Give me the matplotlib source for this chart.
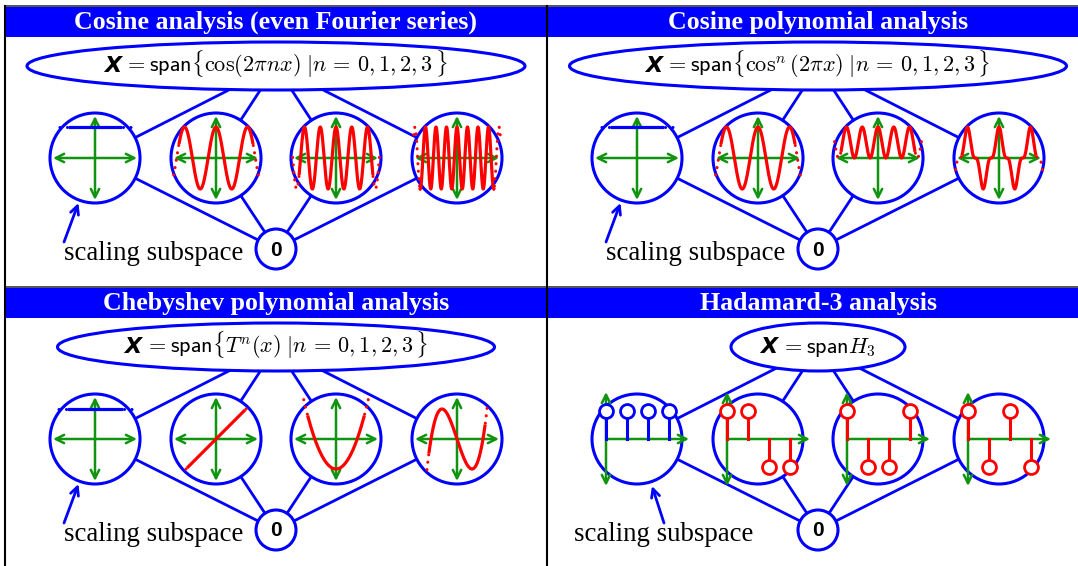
import numpy as np
import matplotlib.pyplot as plt
from matplotlib.patches import Ellipse, Circle, FancyArrowPatch, Rectangle

# ---- data ----
titles = ["Cosine analysis (even Fourier series)", "Cosine polynomial analysis",
          "Chebyshev polynomial analysis", "Hadamard-3 analysis"]
span_eqs = [r"$=\mathsf{span}\{\cos(2\pi nx)\;|n\,=\,0,1,2,3\,\}$",
            r"$=\mathsf{span}\{\cos^n(2\pi x)\;|n\,=\,0,1,2,3\,\}$",
            r"$=\mathsf{span}\{T^n(x)\;|n\,=\,0,1,2,3\,\}$",
            r"$=\mathsf{span}H_3$"]
degrees = [0, 1, 2, 3]
hadamard_rows = [[1, 1, 1, 1], [1, 1, -1, -1], [1, -1, -1, 1], [1, -1, 1, -1]]
scaling_label = "scaling subspace"
zero_label = "0"

# ---- layout (pixels) ----
W, H = 1078, 566
BLUE, RED, GREEN = "#0000FF", "#FF0000", "#109410"
panel_cx = [276, 818, 276, 818]
row_top = [0, 0, 281, 281]
ellipse_w = [498, 497, 437, 174]
ELL_H = 48
ELL_Y, CIRC_Y, ZERO_Y = 66, 158, 249
R, R0 = 45, 20
circle_dx = [-181, -60, 60, 181]

fig = plt.figure(figsize=(W / 100, H / 100), dpi=100)
ax = fig.add_axes([0, 0, 1, 1])
ax.set_xlim(0, W)
ax.set_ylim(H, 0)
ax.axis("off")
plt.rcParams["mathtext.fontset"] = "cm"
renderer = fig.canvas.get_renderer()

# table frame + title bars
for k in range(4):
    x0 = 5 if panel_cx[k] < 500 else 547
    ax.add_patch(Rectangle((x0, row_top[k] + 6.5), 541, 30.5, fc=BLUE, ec="none", zorder=1))
    ax.text(panel_cx[k], row_top[k] + 29, titles[k], color="white", fontsize=18.6,
            fontfamily="Liberation Serif", fontweight="bold", ha="center", va="baseline", zorder=6)
for y in (6, 287):
    ax.plot([5, W], [y, y], color="#444444", lw=1.3, zorder=7)
ax.plot([5, 5], [6, H], color="black", lw=1.5, zorder=7)
ax.plot([546.5, 546.5], [6, H], color="black", lw=1.5, zorder=7)


def arrow(p, q, style, color, lw, ms=10, z=3):
    ax.add_patch(FancyArrowPatch(p, q, arrowstyle=style, color=color, lw=lw,
                                 mutation_scale=ms, shrinkA=0, shrinkB=0, zorder=z))


def span_label(cx, y, eq, size):
    tx = ax.text(0, y, "X", fontsize=size, fontfamily="DejaVu Sans", fontweight="bold",
                 fontstyle="italic", ha="left", va="baseline", zorder=6)
    te = ax.text(0, y, eq, fontsize=size, ha="left", va="baseline", zorder=6)
    wx = tx.get_window_extent(renderer).width
    we = te.get_window_extent(renderer).width
    gap = 0.2 * size
    x0 = cx - (wx + gap + we) / 2
    tx.set_x(x0)
    te.set_x(x0 + wx + gap)


def curve(cx, cy, f, t_solid, t_dot, sx, sy, color):
    t = np.linspace(-t_solid, t_solid, 500)
    ax.plot(cx + sx * t, cy - sy * f(t), color=color, lw=2.3, zorder=4)
    for s in (-1, 1):
        t = s * np.linspace(t_solid, t_dot, 80)
        ax.plot(cx + sx * t, cy - sy * f(t), color=color, lw=2.2,
                ls=(1.5, (0.05, 2.4)), dash_capstyle="round", zorder=4)


def fourier(n):
    return lambda t: np.cos(2 * np.pi * n * t)


def cospow(n):
    return lambda t: np.cos(2 * np.pi * t) ** n


def cheb(n):
    return lambda t: np.polynomial.chebyshev.chebval(t, [0] * n + [1])


for k in range(4):
    cx, top = panel_cx[k], row_top[k]
    ey, cy, zy = top + ELL_Y, top + CIRC_Y, top + ZERO_Y
    ax.add_patch(Ellipse((cx, ey), ellipse_w[k], ELL_H, fc="white", ec=BLUE, lw=2.2, zorder=2))
    span_label(cx, ey + 6, span_eqs[k], 16)
    ax.add_patch(Circle((cx, zy), R0, fc="white", ec=BLUE, lw=2.2, zorder=2))
    ax.text(cx, zy + 1, zero_label, fontsize=15, fontweight="bold", fontfamily="Liberation Sans",
            ha="center", va="center", zorder=6)

    for j, n in enumerate(degrees):
        px = cx + circle_dx[j]
        ax.plot([cx, px, cx], [ey, cy, zy], color=BLUE, lw=2.0, zorder=1)
        ax.add_patch(Circle((px, cy), R, fc="white", ec=BLUE, lw=2.2, zorder=2))
        if k < 3:
            arrow((px - 42, cy), (px + 42, cy), "<->,head_length=0.6,head_width=0.3", GREEN, 1.8)
            arrow((px, cy + 42), (px, cy - 42), "<->,head_length=0.6,head_width=0.3", GREEN, 1.8)
            if k == 2:
                sx = sy = 30
                f, ts, td = cheb(n), 0.93, [1.23, 1.16, 1.12, 1.02][j]
                if n == 0:
                    ts = 0.87
            else:
                sx, sy = 31.5, 31
                f = fourier(n) if k == 0 else cospow(n)
                ts, td = 7 / 6, 1.38
                if n == 0:
                    ts, td = 0.79, 1.33
            curve(px, cy, f, ts, td, sx, sy, BLUE if n == 0 else RED)
        else:
            x0 = px - 31
            arrow((x0, cy + 47), (x0, cy - 47), "<->,head_length=0.6,head_width=0.3", GREEN, 1.8)
            arrow((x0, cy), (px + 52, cy), "->,head_length=0.6,head_width=0.3", GREEN, 1.8)
            col = BLUE if j == 0 else RED
            for i, v in enumerate(hadamard_rows[j]):
                sxp = x0 + 21 * i
                ax.plot([sxp, sxp], [cy, cy - 28 * v], color=col, lw=2.2, zorder=4)
                ax.plot(sxp, cy - 28 * v, "o", ms=10, mfc="white", mec=col, mew=2.0, zorder=5)

    if k < 3:
        tx, tail, head = cx - 212, (cx - 212, top + 242), (cx - 197.5, top + 203)
    else:
        tx, tail, head = cx - 244, (cx - 154, top + 242), (cx - 166, top + 205)
    arrow(tail, head, "->,head_length=0.5,head_width=0.25", BLUE, 2.0, ms=12)
    ax.text(tx, top + 260, scaling_label, fontsize=19.4, fontfamily="Liberation Serif",
            ha="left", va="baseline", zorder=6)

fig.savefig("out.png", dpi=100)
